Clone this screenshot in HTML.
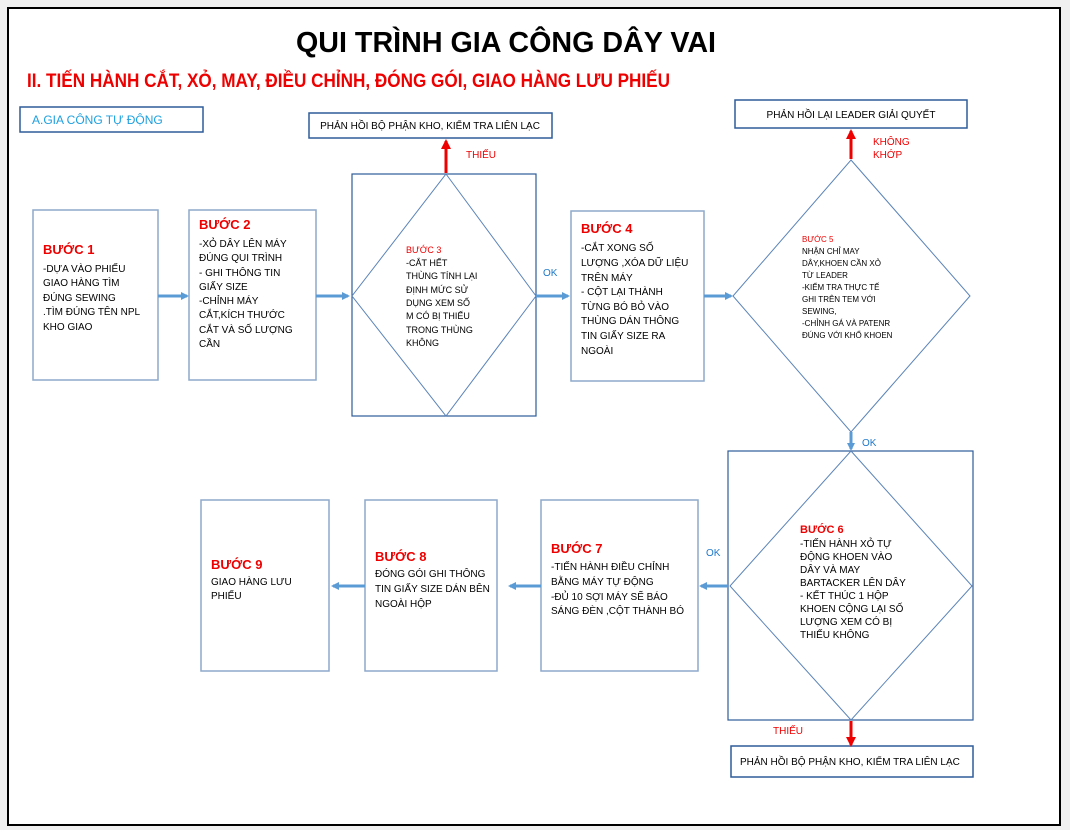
<!DOCTYPE html>
<html><head><meta charset="utf-8"><style>
body{margin:0;background:#f0f0f0;width:1070px;height:830px;overflow:hidden}
svg{display:block}
text{font-family:"Liberation Sans",sans-serif}
</style></head><body>
<svg width="1070" height="830" viewBox="0 0 1070 830">
<defs>
<marker id="b" markerWidth="8" markerHeight="8" refX="6" refY="4" orient="auto" markerUnits="userSpaceOnUse"><path d="M0,0 L8,4 L0,8z" fill="#5b9bd5"/></marker>
<marker id="r" markerWidth="10" markerHeight="10" refX="8" refY="5" orient="auto" markerUnits="userSpaceOnUse"><path d="M0,0 L10,5 L0,10z" fill="#e00"/></marker>
</defs>
<rect x="8" y="8" width="1052" height="817" fill="#fff" stroke="#000" stroke-width="2"/>
<text x="296" y="52" font-size="29" font-weight="bold" textLength="420" lengthAdjust="spacingAndGlyphs">QUI TRÌNH GIA CÔNG DÂY VAI</text>
<text x="27" y="87" font-size="19" font-weight="bold" fill="#e00" textLength="643" lengthAdjust="spacingAndGlyphs">II. TIẾN HÀNH CẮT, XỎ, MAY, ĐIỀU CHỈNH, ĐÓNG GÓI, GIAO HÀNG LƯU PHIẾU</text>
<g fill="#fff" stroke="#2e5c9a" stroke-width="1.5">
<rect x="20" y="107" width="183" height="25"/>
<rect x="309" y="113" width="243" height="25"/>
<rect x="735" y="100" width="232" height="28"/>
<rect x="731" y="746" width="242" height="31"/>
</g>
<text x="32" y="124" font-size="12" fill="#1ea0e0">A.GIA CÔNG TỰ ĐỘNG</text>
<text x="430" y="129" text-anchor="middle" font-size="10">PHẢN HỒI BỘ PHẬN KHO, KIỂM TRA LIÊN LẠC</text>
<text x="851" y="118" text-anchor="middle" font-size="10">PHẢN HỒI LẠI LEADER GIẢI QUYẾT</text>
<text x="740" y="765" font-size="10">PHẢN HỒI BỘ PHẬN KHO, KIỂM TRA LIÊN LẠC</text>
<g fill="#fff" stroke="#8fa9cc" stroke-width="1.5">
<rect x="33" y="210" width="125" height="170"/>
<rect x="189" y="210" width="127" height="170"/>
<rect x="571" y="211" width="133" height="170"/>
<rect x="541" y="500" width="157" height="171"/>
<rect x="365" y="500" width="132" height="171"/>
<rect x="201" y="500" width="128" height="171"/>
</g>
<g fill="none" stroke="#2e5c9a" stroke-width="1.2">
<rect x="352" y="174" width="184" height="242"/>
<rect x="728" y="451" width="245" height="269"/>
</g>
<g fill="none" stroke="#5b84b8" stroke-width="1">
<path d="M446,174 L536,296 L446,416 L352,296z"/>
<path d="M851,160 L970,296 L851,432 L733,296z"/>
<path d="M851,451 L972,586 L851,720 L730,586z"/>
</g>
<g stroke="#5b9bd5" stroke-width="3" marker-end="url(#b)">
<line x1="158" y1="296" x2="187" y2="296"/>
<line x1="316" y1="296" x2="348" y2="296"/>
<line x1="536" y1="296" x2="568" y2="296"/>
<line x1="704" y1="296" x2="731" y2="296"/>
<line x1="851" y1="432" x2="851" y2="449"/>
<line x1="728" y1="586" x2="701" y2="586"/>
<line x1="541" y1="586" x2="510" y2="586"/>
<line x1="365" y1="586" x2="333" y2="586"/>
</g>
<g stroke="#e00" stroke-width="3" marker-end="url(#r)">
<line x1="446" y1="173" x2="446" y2="141"/>
<line x1="851" y1="159" x2="851" y2="131"/>
<line x1="851" y1="721" x2="851" y2="745"/>
</g>
<g font-size="10" fill="#e00">
<text x="466" y="158">THIẾU</text>
<text x="873" y="145">KHÔNG</text>
<text x="873" y="158">KHỚP</text>
<text x="773" y="734">THIẾU</text>
</g>
<g font-size="10" fill="#1e78c8">
<text x="543" y="276">OK</text>
<text x="862" y="446">OK</text>
<text x="706" y="556">OK</text>
</g>
<g font-size="10">
<text x="43" y="254" fill="#e00" font-size="13" font-weight="bold">BƯỚC 1</text>
<text x="43" y="272">-DỰA VÀO PHIẾU</text><text x="43" y="286">GIAO HÀNG TÌM</text><text x="43" y="301">ĐÚNG SEWING</text><text x="43" y="315">.TÌM ĐÚNG TÊN NPL</text><text x="43" y="330">KHO GIAO</text>
<text x="199" y="229" fill="#e00" font-size="13" font-weight="bold">BƯỚC 2</text>
<text x="199" y="247"> -XỎ DÂY LÊN MÁY</text><text x="199" y="261">ĐÚNG QUI TRÌNH</text><text x="199" y="276"> - GHI THÔNG TIN</text><text x="199" y="290">GIẤY SIZE</text><text x="199" y="304">-CHỈNH MÁY</text><text x="199" y="318">CẮT,KÍCH THƯỚC</text><text x="199" y="333">CẮT VÀ SỐ LƯỢNG</text><text x="199" y="347">CẦN</text>
<g font-size="9"><text x="406" y="253" fill="#e00">BƯỚC 3</text>
<text x="406" y="266"> -CẮT HẾT</text><text x="406" y="279">THÙNG TÍNH LẠI</text><text x="406" y="293">ĐỊNH MỨC SỬ</text><text x="406" y="306">DỤNG XEM SỐ</text><text x="406" y="319">M CÓ BỊ THIẾU</text><text x="406" y="333">TRONG THÙNG</text><text x="406" y="346">KHÔNG</text></g>
<text x="581" y="233" fill="#e00" font-size="13" font-weight="bold">BƯỚC 4</text>
<text x="581" y="251">  -CẮT XONG SỐ</text><text x="581" y="266">LƯỢNG ,XÓA DỮ LIỆU</text><text x="581" y="281">TRÊN MÁY</text><text x="581" y="295"> - CỘT LẠI THÀNH</text><text x="581" y="310">TỪNG BÓ BỎ VÀO</text><text x="581" y="324">THÙNG DÁN THÔNG</text><text x="581" y="339">TIN GIẤY SIZE RA</text><text x="581" y="354">NGOÀI</text>
<g font-size="8"><text x="802" y="242" fill="#e00">BƯỚC 5</text>
<text x="802" y="254"> NHẬN CHỈ MAY</text><text x="802" y="266">DÂY,KHOEN CẦN XỎ</text><text x="802" y="278">TỪ LEADER</text><text x="802" y="290">-KIỂM TRA THỰC TẾ</text><text x="802" y="302">GHI TRÊN TEM VỚI</text><text x="802" y="314">SEWING,</text><text x="802" y="326">-CHỈNH GÁ VÀ PATENR</text><text x="802" y="338">ĐÚNG VỚI KHỔ KHOEN</text></g>
<text x="800" y="533" fill="#e00" font-size="11" font-weight="bold">BƯỚC 6</text>
<text x="800" y="547">-TIẾN HÀNH XỎ TỰ</text><text x="800" y="560">ĐỘNG KHOEN VÀO</text><text x="800" y="573">DÂY VÀ MAY</text><text x="800" y="586">BARTACKER LÊN DÂY</text><text x="800" y="599">- KẾT THÚC 1 HỘP</text><text x="800" y="612">KHOEN CỘNG LẠI SỐ</text><text x="800" y="625">LƯỢNG XEM CÓ BỊ</text><text x="800" y="638">THIẾU KHÔNG</text>
<text x="551" y="553" fill="#e00" font-size="13" font-weight="bold">BƯỚC 7</text>
<text x="551" y="570">-TIẾN HÀNH ĐIỀU CHỈNH</text><text x="551" y="585">BẰNG MÁY TỰ ĐỘNG</text><text x="551" y="600">-ĐỦ 10 SỢI MÁY SẼ BÁO</text><text x="551" y="614">SÁNG ĐÈN ,CỘT THÀNH BÓ</text>
<text x="375" y="561" fill="#e00" font-size="13" font-weight="bold">BƯỚC 8</text>
<text x="375" y="577">ĐÓNG GÓI GHI THÔNG</text><text x="375" y="592">TIN GIẤY SIZE DÁN BÊN</text><text x="375" y="607">NGOÀI HỘP</text>
<text x="211" y="569" fill="#e00" font-size="13" font-weight="bold">BƯỚC 9</text>
<text x="211" y="585">GIAO HÀNG LƯU</text><text x="211" y="599">PHIẾU</text>
</g>
</svg>
</body></html>
